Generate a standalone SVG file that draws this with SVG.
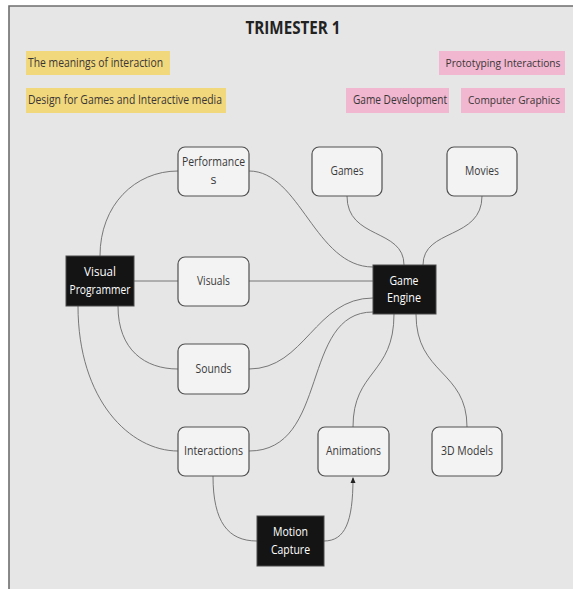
<svg xmlns="http://www.w3.org/2000/svg" width="573" height="589" viewBox="0 0 573 589">
<style>
  .bg { fill: #e6e6e6; }
  .frame { stroke: #6e6e6e; stroke-width: 1.6; fill: none; }
  .node { fill: #f3f3f3; stroke: #505050; stroke-width: 1.2; }
  .dark { fill: #141414; stroke: #4a4a4a; stroke-width: 1; }
  .yellow { fill: #f2d87c; }
  .pink { fill: #f1b6d0; }
  text { font-family: "Open Sans", "Noto Sans", "Liberation Sans", sans-serif; }
  .t { font-size: 12.5px; fill: #3a3a3a; text-anchor: middle; }
  .tw { font-size: 12.5px; fill: #ffffff; text-anchor: middle; }
  .s { font-size: 12.5px; fill: #3a3636; }
  .se { font-size: 11px; fill: #3a3636; text-anchor: middle; }
  .title { font-size: 18px; font-weight: bold; fill: #222; text-anchor: middle; }
  .conn path, .conn line { fill: none; stroke: #6a6a6a; stroke-width: 0.9; }
</style>
<defs>
  <marker id="arr" markerWidth="6" markerHeight="6" refX="5" refY="3" orient="auto" markerUnits="userSpaceOnUse">
    <path d="M0,0.5 L6,3 L0,5.5 Z" fill="#222"/>
  </marker>
</defs>
<rect x="0" y="0" width="573" height="589" fill="#ffffff"/>
<rect class="bg" x="9" y="6" width="564" height="583"/>
<path class="frame" d="M9,589 L9,6 L573,6"/>

<text class="title" x="293" y="34" textLength="95" lengthAdjust="spacingAndGlyphs">TRIMESTER 1</text>

<g id="note-meanings">
  <rect class="yellow" x="26" y="51" width="144" height="24"/>
  <text class="s" x="28" y="67" textLength="135" lengthAdjust="spacingAndGlyphs">The meanings of interaction</text>
</g>
<g id="note-design">
  <rect class="yellow" x="26" y="88" width="200" height="25"/>
  <text class="s" x="28" y="104" textLength="194" lengthAdjust="spacingAndGlyphs">Design for Games and Interactive media</text>
</g>
<g id="note-prototyping">
  <rect class="pink" x="439" y="51" width="126" height="24"/>
  <text class="se" x="503" y="67" textLength="115" lengthAdjust="spacingAndGlyphs">Prototyping Interactions</text>
</g>
<g id="note-gamedev">
  <rect class="pink" x="346" y="88" width="103" height="25"/>
  <text class="s" x="353" y="104" textLength="94" lengthAdjust="spacingAndGlyphs">Game Development</text>
</g>
<g id="note-graphics">
  <rect class="pink" x="461" y="88" width="104" height="25"/>
  <text class="se" x="514" y="104" textLength="92" lengthAdjust="spacingAndGlyphs">Computer Graphics</text>
</g>

<g id="connectors" class="conn">
  <path d="M100,256 C100,205 135,171 178,171"/>
  <path d="M249,171 C300,171 315,267 373,267"/>
  <path d="M347,196 C347,240 404,228 404,265"/>
  <path d="M482,196 C482,240 423,228 423,265"/>
  <line x1="134" y1="281" x2="178" y2="281"/>
  <line x1="249" y1="281" x2="373" y2="281"/>
  <path d="M118,306 C118,350 145,369 178,369"/>
  <path d="M249,369 C305,369 315,298 373,298"/>
  <path d="M78,306 C78,400 130,451 178,451"/>
  <path d="M249,451 C330,451 300,312 373,312"/>
  <path d="M394,314 C394,375 353,370 353,427"/>
  <path d="M416,314 C416,375 467,370 467,427"/>
  <path d="M213,476 C213,522 228,541 257,541"/>
  <path d="M324,541 C345,541 353,522 353,478" marker-end="url(#arr)"/>
</g>

<g id="performances">
  <rect class="node" x="178" y="147" width="71" height="49" rx="7"/>
  <text class="t" x="213.5" y="166" textLength="63" lengthAdjust="spacingAndGlyphs">Performance</text>
  <text class="t" x="213.5" y="184">s</text>
</g>
<g id="games">
  <rect class="node" x="312" y="147" width="70" height="49" rx="7"/>
  <text class="t" x="347" y="175" textLength="33" lengthAdjust="spacingAndGlyphs">Games</text>
</g>
<g id="movies">
  <rect class="node" x="447" y="147" width="70" height="49" rx="7"/>
  <text class="t" x="482" y="175" textLength="34" lengthAdjust="spacingAndGlyphs">Movies</text>
</g>
<g id="visual-programmer">
  <rect class="dark" x="66" y="256" width="68" height="50"/>
  <text class="tw" x="100" y="276" textLength="32" lengthAdjust="spacingAndGlyphs">Visual</text>
  <text class="tw" x="100" y="294" textLength="61" lengthAdjust="spacingAndGlyphs">Programmer</text>
</g>
<g id="visuals">
  <rect class="node" x="178" y="257" width="71" height="49" rx="7"/>
  <text class="t" x="213.5" y="285" textLength="33" lengthAdjust="spacingAndGlyphs">Visuals</text>
</g>
<g id="game-engine">
  <rect class="dark" x="373" y="265" width="63" height="49"/>
  <text class="tw" x="404" y="285" textLength="29" lengthAdjust="spacingAndGlyphs">Game</text>
  <text class="tw" x="404" y="302" textLength="34" lengthAdjust="spacingAndGlyphs">Engine</text>
</g>
<g id="sounds">
  <rect class="node" x="178" y="344" width="71" height="50" rx="7"/>
  <text class="t" x="213.5" y="373" textLength="36" lengthAdjust="spacingAndGlyphs">Sounds</text>
</g>
<g id="interactions">
  <rect class="node" x="178" y="427" width="71" height="49" rx="7"/>
  <text class="t" x="213.5" y="455" textLength="59" lengthAdjust="spacingAndGlyphs">Interactions</text>
</g>
<g id="animations">
  <rect class="node" x="318" y="427" width="71" height="49" rx="7"/>
  <text class="t" x="353.5" y="455" textLength="55" lengthAdjust="spacingAndGlyphs">Animations</text>
</g>
<g id="models-3d">
  <rect class="node" x="432" y="427" width="70" height="49" rx="7"/>
  <text class="t" x="467" y="455" textLength="52" lengthAdjust="spacingAndGlyphs">3D Models</text>
</g>
<g id="motion-capture">
  <rect class="dark" x="257" y="516" width="67" height="50"/>
  <text class="tw" x="290.5" y="536" textLength="35" lengthAdjust="spacingAndGlyphs">Motion</text>
  <text class="tw" x="290.5" y="554" textLength="39" lengthAdjust="spacingAndGlyphs">Capture</text>
</g>
</svg>
